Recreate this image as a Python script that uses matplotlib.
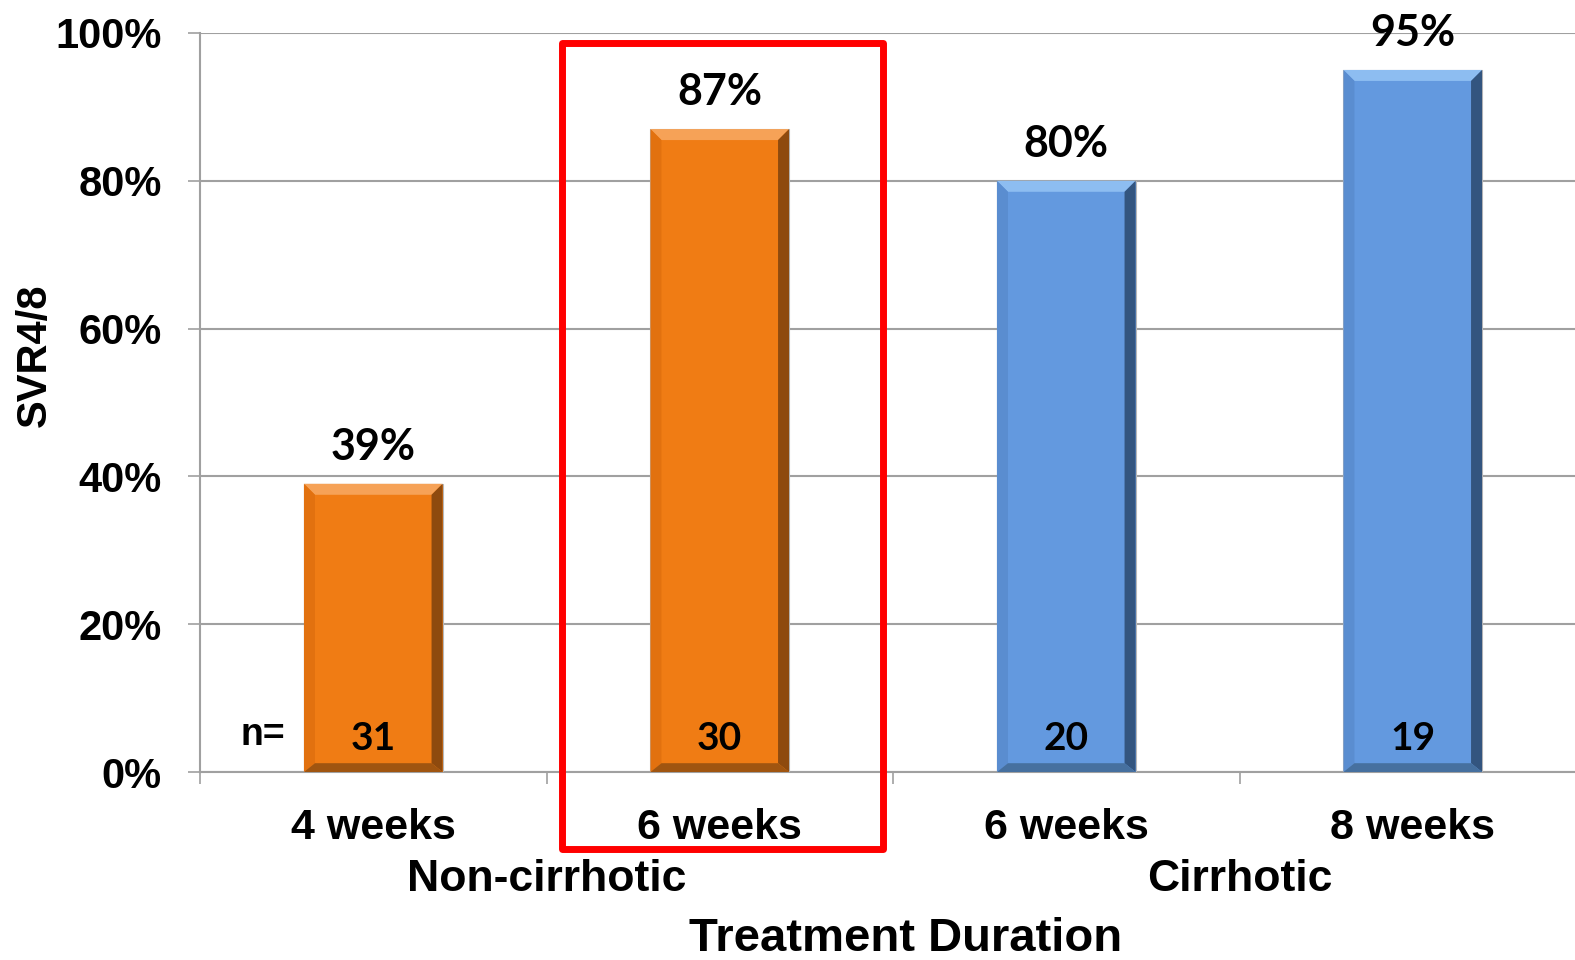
import matplotlib.pyplot as plt
from matplotlib.patches import Polygon, Rectangle
import matplotlib.transforms as mtransforms
import numpy as np

# data
categories = ["4 weeks", "6 weeks", "6 weeks", "8 weeks"]
groups = ["Non-cirrhotic", "Cirrhotic"]
group_of_bar = [0, 0, 1, 1]
svr = [39, 87, 80, 95]
n_values = [31, 30, 20, 19]
highlight = 1

# colours: main, top bevel, left bevel, right bevel, bottom bevel
palette = {
    0: ("#F07C14", "#F6A257", "#E2710F", "#8E4A0E", "#A05510"),
    1: ("#6399DF", "#8DBDF1", "#5A8DD0", "#33557F", "#46709F"),
}

W, H = 1575, 960
fig = plt.figure(figsize=(W / 100, H / 100), dpi=100)
ax = fig.add_axes([200 / W, 1 - 772 / H, 1386 / W, (772 - 33) / H])

x = np.arange(len(categories))
ax.set_xlim(-0.5, len(categories) - 0.5)
ax.set_ylim(0, 100)

bars = ax.bar(x, svr, width=0.4, color=[palette[g][0] for g in group_of_bar],
              edgecolor="#B8B8B8", linewidth=0.8, zorder=3)

# bevel effect, depth given in pixels
inv = ax.transData.inverted()
for b, g in zip(bars, group_of_bar):
    main, top, left, right, bottom = palette[g]
    x0, y0 = ax.transData.transform((b.get_x(), 0))
    x1, y1 = ax.transData.transform((b.get_x() + b.get_width(), b.get_height()))
    d = 11
    outer = [(x0, y0), (x1, y0), (x1, y1), (x0, y1)]
    inner = [(x0 + d, y0 + d * 0.8), (x1 - d, y0 + d * 0.8), (x1 - d, y1 - d), (x0 + d, y1 - d)]
    faces = [
        ([outer[3], outer[2], inner[2], inner[3]], top),
        ([outer[0], outer[3], inner[3], inner[0]], left),
        ([outer[1], outer[2], inner[2], inner[1]], right),
        ([outer[0], outer[1], inner[1], inner[0]], bottom),
    ]
    for pts, c in faces:
        ax.add_patch(Polygon(inv.transform(pts), closed=True, facecolor=c,
                             edgecolor="none", zorder=4))

# value labels
for xi, v in zip(x, svr):
    ax.annotate(f"{v}%", (xi, v), xytext=(0, 17), textcoords="offset points",
                ha="center", va="baseline", fontsize=31, fontweight="bold",
                family="Lato", zorder=6)

for xi, n in zip(x, n_values):
    ax.text(xi, 4.6, str(n), ha="center", va="center", fontsize=28,
            fontweight="bold", family="Lato", zorder=6)
ax.text(x[0] - 0.32, 5.0, "n=", ha="center", va="center", fontsize=27,
        fontweight="bold", family="Liberation Sans", zorder=6)

# axes styling
for s in ["top", "right"]:
    ax.spines[s].set_visible(False)
for s in ["left", "bottom"]:
    ax.spines[s].set_color("#A0A0A0")
    ax.spines[s].set_linewidth(1.5)

ax.set_yticks(np.arange(0, 101, 20))
ax.set_yticklabels([f"{v}%" for v in range(0, 101, 20)])
ax.yaxis.grid(True, color="#A0A0A0", linewidth=1.5, zorder=0)
ax.set_axisbelow(True)
ax.tick_params(axis="y", length=8.6, width=1.2, color="#A0A0A0", pad=19)
for lab in ax.get_yticklabels():
    lab.set_fontsize(30)
    lab.set_fontweight("bold")
    lab.set_family("Liberation Sans")

ax.set_xticks(x)
ax.set_xticklabels(categories)
ax.set_xticks(np.arange(-0.5, len(categories), 1), minor=True)
ax.tick_params(axis="x", which="major", length=0, pad=26)
ax.tick_params(axis="x", which="minor", length=8.6, width=1.2, color="#A0A0A0")
for lab in ax.get_xticklabels():
    lab.set_fontsize(31)
    lab.set_fontweight("bold")
    lab.set_family("Liberation Sans")

# group labels
blend = mtransforms.blended_transform_factory(ax.transData, ax.transAxes)
for gi, name in enumerate(groups):
    xs = [xi for xi, g in zip(x, group_of_bar) if g == gi]
    ax.text(np.mean(xs), -0.145, name, transform=blend, ha="center", va="center",
            fontsize=32, fontweight="bold", family="Liberation Sans")

fig.text(906 / W, 1 - 951 / H, "Treatment Duration", ha="center", va="baseline",
         fontsize=34, fontweight="bold", family="Liberation Sans")
fig.text(35 / W, 1 - 355 / H, "SVR4/8", ha="center", va="center", rotation=90,
         fontsize=30, fontweight="bold", family="Liberation Sans")

# highlight box
ax.add_patch(Rectangle((x[highlight] - 0.455, -0.104), 0.925, 1.09, transform=blend,
                       fill=False, edgecolor="#FF0000", linewidth=5,
                       joinstyle="round", clip_on=False, zorder=7))

fig.savefig("out.png", dpi=100)
